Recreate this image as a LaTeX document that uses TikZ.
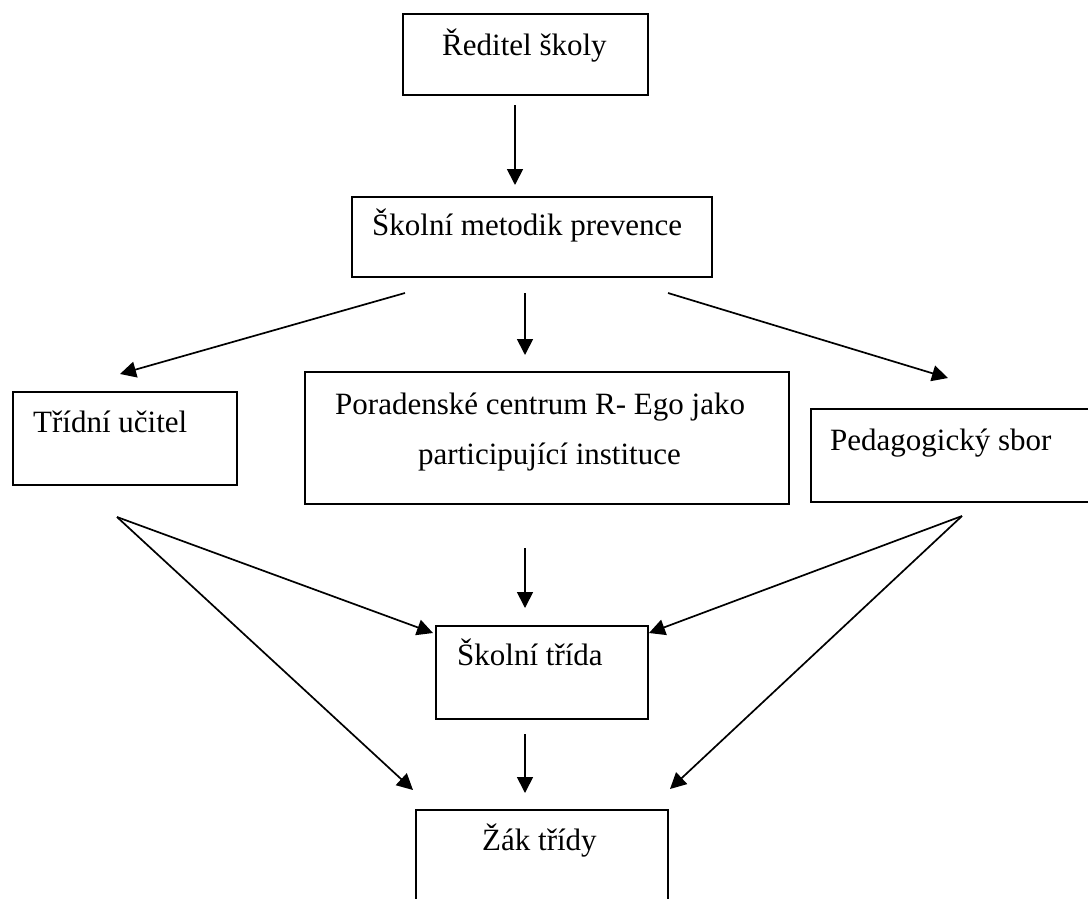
\documentclass[tikz,border=0pt]{standalone}
\usepackage{fontspec}
\setmainfont{Liberation Serif}
\usetikzlibrary{arrows.meta}
\begin{document}
\begin{tikzpicture}[x=1pt,y=-1pt,
  box/.style={draw,line width=2pt,rectangle,inner sep=0pt},
  txt/.style={anchor=base west,inner sep=0pt,font=\fontsize{31}{50}\selectfont},
  conn/.style={line width=1.7pt,-{Triangle[length=16pt,width=16pt]}}]
\clip (0,0) rectangle (1088,898);
\fill[white] (0,0) rectangle (1088,898);
% boxes
\node[box,minimum width=245pt,minimum height=81pt] (red) at (525.5,54.5) {};
\node[box,minimum width=360pt,minimum height=80pt] (met) at (532,237) {};
\node[box,minimum width=224pt,minimum height=93pt] (tu) at (125,438.5) {};
\node[box,minimum width=484pt,minimum height=132pt] (por) at (547,438) {};
\node[box,minimum width=285pt,minimum height=93pt] (ped) at (953.5,455.5) {};
\node[box,minimum width=212pt,minimum height=93pt] (st) at (542,672.5) {};
\node[box,minimum width=252pt,minimum height=110pt] (zak) at (542,865) {};
% texts
\node[txt] (tred) at (442,55) {Ředitel školy};
\node[txt] (tmet) at (372,235) {Školní metodik prevence};
\node[txt] (ttu) at (33,432) {Třídní učitel};
\node[txt] (tpor1) at (335,414) {Poradenské centrum R- Ego jako};
\node[txt] (tpor2) at (418,464) {participující instituce};
\node[txt] (tped) at (830,450) {Pedagogický sbor};
\node[txt] (tst) at (457,665) {Školní třída};
\node[txt] (tzak) at (482,850) {Žák třídy};
% connector end points
\coordinate (r1) at (515,105);   \coordinate (m1) at (515,185);
\coordinate (m2) at (405,293);   \coordinate (t2) at (120,374);
\coordinate (m3) at (525,293);   \coordinate (p3) at (525,355);
\coordinate (m4) at (668,293);   \coordinate (g4) at (948,378);
\coordinate (t5) at (117,517);   \coordinate (s5) at (433,633);
\coordinate (z5) at (413,790);
\coordinate (p6) at (525,548);   \coordinate (s6) at (525,608);
\coordinate (g7) at (962,516);   \coordinate (s7) at (649,633);
\coordinate (z7) at (670,789);
\coordinate (s8) at (525,734);   \coordinate (z8) at (525,793);
% connectors
\draw[conn] (r1) -- (m1);
\draw[conn] (m2) -- (t2);
\draw[conn] (m3) -- (p3);
\draw[conn] (m4) -- (g4);
\draw[conn] (t5) -- (s5);
\draw[conn] (t5) -- (z5);
\draw[conn] (p6) -- (s6);
\draw[conn] (g7) -- (s7);
\draw[conn] (g7) -- (z7);
\draw[conn] (s8) -- (z8);
\end{tikzpicture}
\end{document}
